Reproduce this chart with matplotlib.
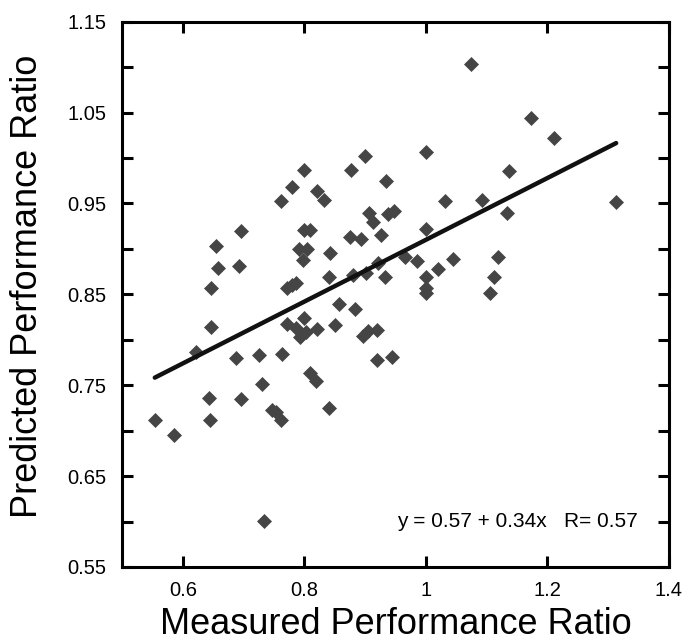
import numpy as np
import matplotlib
matplotlib.use("Agg")
import matplotlib.pyplot as plt

plt.rcParams['font.family'] = ['Liberation Sans', 'DejaVu Sans']

# measured vs predicted performance ratio
measured = [0.554, 0.586, 0.621, 0.643, 0.644, 0.646, 0.646, 0.655, 0.658, 0.688,
            0.692, 0.696, 0.696, 0.725, 0.731, 0.733, 0.746, 0.754, 0.762, 0.762,
            0.763, 0.772, 0.772, 0.780, 0.780, 0.786, 0.787, 0.792, 0.793, 0.798,
            0.800, 0.800, 0.800, 0.802, 0.804, 0.809, 0.810, 0.819, 0.821, 0.821,
            0.833, 0.840, 0.841, 0.843, 0.851, 0.857, 0.875, 0.876, 0.880, 0.883,
            0.893, 0.896, 0.900, 0.902, 0.904, 0.907, 0.913, 0.919, 0.920, 0.921,
            0.926, 0.932, 0.935, 0.938, 0.945, 0.947, 0.966, 0.985, 1.000, 1.000,
            1.000, 1.000, 1.000, 1.020, 1.032, 1.044, 1.074, 1.093, 1.106, 1.112,
            1.118, 1.133, 1.137, 1.173, 1.211, 1.313]
predicted = [0.712, 0.695, 0.787, 0.736, 0.712, 0.814, 0.857, 0.903, 0.879, 0.780,
             0.881, 0.920, 0.735, 0.783, 0.751, 0.601, 0.723, 0.721, 0.712, 0.953,
             0.784, 0.857, 0.817, 0.860, 0.968, 0.813, 0.863, 0.900, 0.803, 0.888,
             0.987, 0.921, 0.824, 0.809, 0.900, 0.921, 0.763, 0.755, 0.964, 0.812,
             0.954, 0.869, 0.725, 0.896, 0.816, 0.839, 0.913, 0.987, 0.871, 0.834,
             0.911, 0.804, 1.002, 0.874, 0.810, 0.939, 0.930, 0.778, 0.811, 0.885,
             0.915, 0.869, 0.975, 0.938, 0.781, 0.942, 0.891, 0.887, 1.007, 0.922,
             0.869, 0.857, 0.851, 0.878, 0.953, 0.889, 1.103, 0.954, 0.852, 0.869,
             0.891, 0.939, 0.986, 1.044, 1.022, 0.952]

intercept = 0.57
slope = 0.34
r_value = 0.57

xticks = [0.6, 0.8, 1.0, 1.2, 1.4]
xticklabels = ['0.6', '0.8', '1', '1.2', '1.4']
yticks = [0.55, 0.65, 0.75, 0.85, 0.95, 1.05, 1.15]
yminor = [0.60, 0.70, 0.80, 0.90, 1.00, 1.10]

fig = plt.figure(figsize=(6.83, 6.43), dpi=100)
ax = fig.add_axes([122/683, 1 - 567/643, 547/683, 545.3/643])

ax.plot(measured, predicted, 'D', color='#454545', ms=6.8, mec='#454545', mew=0.5, zorder=2)

xl = np.array([min(measured), max(measured)])
ax.plot(xl, intercept + slope * xl, color='#111111', lw=3.2, solid_capstyle='round', zorder=3)

ax.set_xlim(0.5, 1.4)
ax.set_ylim(0.55, 1.15)
ax.set_xticks(xticks)
ax.set_xticklabels(xticklabels)
ax.set_yticks(yticks)
ax.set_yticklabels(['%.2f' % v for v in yticks])
ax.set_yticks(yminor, minor=True)

for s in ax.spines.values():
    s.set_linewidth(2.2)
ax.tick_params(which='both', direction='in', top=True, right=True, length=8, width=2.2,
               labelsize=14.5)
ax.tick_params(axis='x', pad=10)
ax.tick_params(axis='y', pad=11)

ax.set_xlabel('Measured Performance Ratio', fontsize=26, labelpad=5)
ax.set_ylabel('Predicted Performance Ratio', fontsize=26)
ax.yaxis.set_label_coords(-0.14, 0.515)

ax.text(1.349, 0.600, 'y = %.2f + %.2fx   R= %.2f' % (intercept, slope, r_value),
        ha='right', va='center', fontsize=15)

fig.savefig('out.png', dpi=100)
